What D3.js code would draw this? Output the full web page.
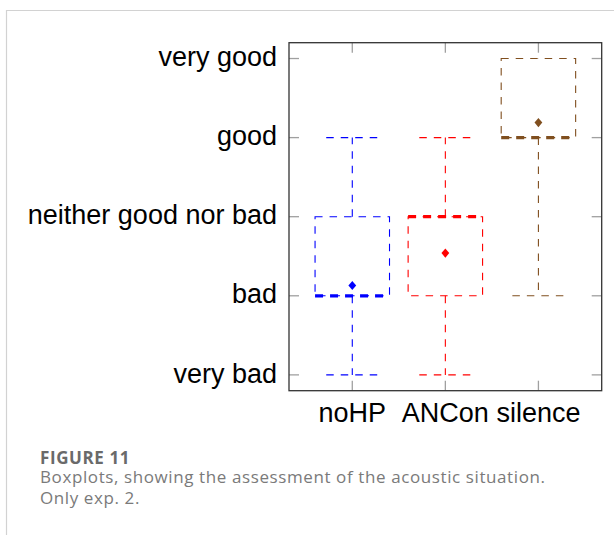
<!DOCTYPE html>
<html>
<head>
<meta charset="utf-8">
<script src="https://cdn.jsdelivr.net/npm/d3@7.9.0/dist/d3.min.js"></script>
<style>
  html, body { margin: 0; padding: 0; background: #fff; }
  svg { display: block; }
</style>
</head>
<body>
<svg id="chart"></svg>
<script>
// boxplot stats (1 = very bad ... 5 = very good)
const groups = ["noHP", "ANCon", "silence"];
const lowerWhisker = [1, 1, 2];
const lowerQuartile = [2, 2, 4];
const medians = [2, 3, 4];
const upperQuartile = [3, 3, 5];
const upperWhisker = [4, 4, 5];
const means = [2.13, 2.54, 4.19];
const ratingLabels = ["very bad", "bad", "neither good nor bad", "good", "very good"];
const ratingValues = [1, 2, 3, 4, 5];
const colors = ["#0000ff", "#ff0000", "#804f1f"];

const width = 614;
const height = 535;
const plot = { left: 289, right: 601.7, top: 42.7, bottom: 390.7 };

const svg = d3.select('#chart')
  .attr('width', width)
  .attr('height', height);

// page frame (light grey lines at top and left)
svg.append('line')
  .attr('x1', 6).attr('x2', width).attr('y1', 10.5).attr('y2', 10.5)
  .attr('stroke', '#d2d2d2').attr('stroke-width', 1.2);
svg.append('line')
  .attr('x1', 6.5).attr('x2', 6.5).attr('y1', 10).attr('y2', height)
  .attr('stroke', '#d2d2d2').attr('stroke-width', 1.2);

const x = d3.scaleLinear().domain([0.32, 3.68]).range([plot.left, plot.right]);
const y = d3.scaleLinear().domain([0.8, 5.2]).range([plot.bottom, plot.top]);

const labelFont = '"Liberation Sans", Arial, sans-serif';
const tickLen = 10;
const tickColor = '#a0a0a0';

// inward tick marks on all four sides
const tg = svg.append('g');
ratingValues.forEach(v => {
  tg.append('line').attr('x1', plot.left).attr('x2', plot.left + tickLen)
    .attr('y1', y(v)).attr('y2', y(v));
  tg.append('line').attr('x1', plot.right).attr('x2', plot.right - tickLen)
    .attr('y1', y(v)).attr('y2', y(v));
});
groups.forEach((g, i) => {
  tg.append('line').attr('x1', x(i + 1)).attr('x2', x(i + 1))
    .attr('y1', plot.bottom).attr('y2', plot.bottom - tickLen);
  tg.append('line').attr('x1', x(i + 1)).attr('x2', x(i + 1))
    .attr('y1', plot.top).attr('y2', plot.top + tickLen);
});
tg.selectAll('line').attr('stroke', tickColor).attr('stroke-width', 1.3);

// y labels
svg.append('g')
  .selectAll('text')
  .data(ratingValues)
  .join('text')
  .attr('x', plot.left - 12)
  .attr('y', d => y(d) + 7.7)
  .attr('text-anchor', 'end')
  .attr('font-family', labelFont)
  .attr('font-size', 27)
  .attr('fill', '#000')
  .text((d, i) => ratingLabels[i]);

// x labels
svg.append('g')
  .selectAll('text')
  .data(groups)
  .join('text')
  .attr('x', (d, i) => x(i + 1))
  .attr('y', 421.7)
  .attr('text-anchor', 'middle')
  .attr('font-family', labelFont)
  .attr('font-size', 27)
  .attr('fill', '#000')
  .text(d => d);

// boxes
const boxHalf = 0.4;
const capHalf = 0.28;
const thin = '7.5,7';
const thick = '8,7';

groups.forEach((g, i) => {
  const c = i + 1;
  const col = colors[i];
  const bg = svg.append('g')
    .attr('fill', 'none')
    .attr('stroke', col);

  // whiskers
  bg.append('line')
    .attr('x1', x(c)).attr('x2', x(c))
    .attr('y1', y(upperQuartile[i])).attr('y2', y(upperWhisker[i]))
    .attr('stroke-width', 1.1).attr('stroke-dasharray', thin);
  bg.append('line')
    .attr('x1', x(c)).attr('x2', x(c))
    .attr('y1', y(lowerQuartile[i])).attr('y2', y(lowerWhisker[i]))
    .attr('stroke-width', 1.1).attr('stroke-dasharray', thin);
  if (upperWhisker[i] !== upperQuartile[i]) {
    bg.append('line')
      .attr('x1', x(c - capHalf)).attr('x2', x(c + capHalf))
      .attr('y1', y(upperWhisker[i])).attr('y2', y(upperWhisker[i]))
      .attr('stroke-width', 1.1).attr('stroke-dasharray', thin);
  }
  if (lowerWhisker[i] !== lowerQuartile[i]) {
    bg.append('line')
      .attr('x1', x(c - capHalf)).attr('x2', x(c + capHalf))
      .attr('y1', y(lowerWhisker[i])).attr('y2', y(lowerWhisker[i]))
      .attr('stroke-width', 1.1).attr('stroke-dasharray', thin);
  }

  // box
  bg.append('rect')
    .attr('x', x(c - boxHalf))
    .attr('y', y(upperQuartile[i]))
    .attr('width', x(c + boxHalf) - x(c - boxHalf))
    .attr('height', y(lowerQuartile[i]) - y(upperQuartile[i]))
    .attr('stroke-width', 1.1).attr('stroke-dasharray', thin);

  // median
  bg.append('line')
    .attr('x1', x(c - boxHalf)).attr('x2', x(c + boxHalf))
    .attr('y1', y(medians[i])).attr('y2', y(medians[i]))
    .attr('stroke-width', 3.3).attr('stroke-dasharray', thick);

  // mean marker (pgf-style diamond, a bit wider than d3's)
  svg.append('path')
    .attr('d', 'M0,-4.6L3.9,0L0,4.6L-3.9,0Z')
    .attr('transform', `translate(${x(c)},${y(means[i])})`)
    .attr('fill', col);
});

// frame
svg.append('rect')
  .attr('x', plot.left).attr('y', plot.top)
  .attr('width', plot.right - plot.left)
  .attr('height', plot.bottom - plot.top)
  .attr('fill', 'none')
  .attr('stroke', '#333')
  .attr('stroke-width', 1.3);

// caption
const capFont = '"Open Sans", Lato, sans-serif';
svg.append('text')
  .attr('x', 40).attr('y', 464)
  .attr('font-family', capFont).attr('font-weight', 'bold')
  .attr('font-size', 17).attr('letter-spacing', 0.6).attr('fill', '#6a6a6a')
  .text('FIGURE 11');
const captionLines = ['Boxplots, showing the assessment of the acoustic situation.', 'Only exp. 2.'];
svg.append('g')
  .selectAll('text')
  .data(captionLines)
  .join('text')
  .attr('x', 40)
  .attr('y', (d, i) => 482.5 + i * 21.7)
  .attr('font-family', capFont)
  .attr('font-size', 17)
  .attr('letter-spacing', 0.6)
  .attr('fill', '#7a7a7a')
  .text(d => d);
</script>
</body>
</html>
